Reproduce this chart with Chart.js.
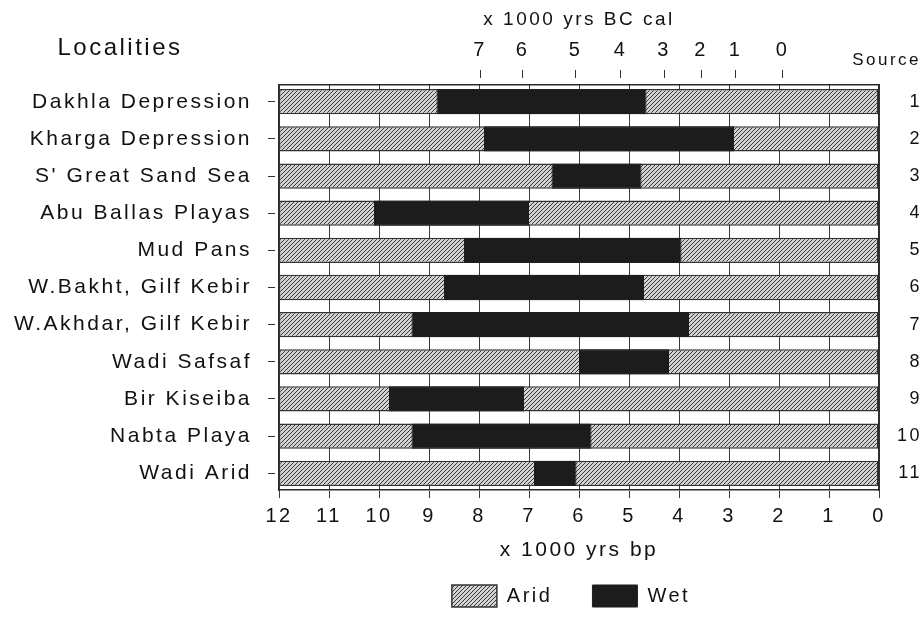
<!DOCTYPE html>
<html>
<head>
<meta charset="utf-8">
<script src="https://cdn.jsdelivr.net/npm/chart.js@4.4.1/dist/chart.umd.min.js"></script>
<style>
  html, body { margin: 0; padding: 0; background: #fff; }
  canvas { display: block; }
</style>
</head>
<body>
<canvas id="wetChart" width="922" height="617"></canvas>
<script>
// localities, top to bottom
const localities = [
    "Dakhla Depression",
    "Kharga Depression",
    "S' Great Sand Sea",
    "Abu Ballas Playas",
    "Mud Pans",
    "W.Bakht, Gilf Kebir",
    "W.Akhdar, Gilf Kebir",
    "Wadi Safsaf",
    "Bir Kiseiba",
    "Nabta Playa",
    "Wadi Arid"
];
const sources = ["1", "2", "3", "4", "5", "6", "7", "8", "9", "10", "11"];

// wet phase, x 1000 yrs bp (start = older end)
const wetStart = [8.85, 7.9, 6.55, 10.1, 8.3, 8.7, 9.35, 6.0, 9.8, 9.35, 6.9];
const wetEnd   = [4.65, 2.9, 4.75, 7.0, 3.95, 4.7, 3.8, 4.2, 7.1, 5.75, 6.05];

// arid background covers the whole record
const aridStart = 12;
const aridEnd = 0;

// axes
const bpTicks = [12, 11, 10, 9, 8, 7, 6, 5, 4, 3, 2, 1, 0];
const calLabels = ["7", "6", "5", "4", "3", "2", "1", "0"];
const calAtBp = [7.98, 7.13, 6.07, 5.17, 4.30, 3.56, 2.87, 1.93];

const ink = "#111";
Chart.defaults.font.family = "'Liberation Sans', Arial, sans-serif";
Chart.defaults.color = ink;

// diagonal hatch for the arid bars
function makeHatch() {
    const c = document.createElement("canvas");
    c.width = 4;
    c.height = 4;
    const g = c.getContext("2d");
    g.fillStyle = "#d2d2d2";
    g.fillRect(0, 0, 4, 4);
    g.strokeStyle = "#3a3a3a";
    g.lineWidth = 1;
    g.beginPath(); g.moveTo(-1, 5); g.lineTo(5, -1); g.stroke();
    g.beginPath(); g.moveTo(-1, 1); g.lineTo(1, -1); g.stroke();
    g.beginPath(); g.moveTo(3, 5); g.lineTo(5, 3); g.stroke();
    return g.createPattern(c, "repeat");
}
const hatch = makeHatch();

// wide tracking like the original typeface
const spacing = {
    id: "spacing",
    beforeUpdate(chart) { chart.ctx.letterSpacing = "2.5px"; },
    beforeDraw(chart) { chart.ctx.letterSpacing = "2.5px"; }
};

// legend sits under the plot, not the whole canvas
const legendUnderPlot = {
    id: "legendUnderPlot",
    afterLayout(chart) {
        const lg = chart.legend;
        lg.left = chart.chartArea.left - 16;
        lg.right = chart.chartArea.right;
        lg.top = 545;
    }
};

// the two corner headings
const headings = {
    id: "headings",
    afterDraw(chart) {
        const ctx = chart.ctx;
        ctx.save();
        ctx.fillStyle = ink;
        ctx.textBaseline = "middle";
        ctx.font = "24px 'Liberation Sans', Arial, sans-serif";
        ctx.textAlign = "center";
        ctx.fillText("Localities", 120, 48);
        ctx.font = "17px 'Liberation Sans', Arial, sans-serif";
        ctx.textAlign = "right";
        ctx.fillText("Source", 921, 60);
        ctx.restore();
    }
};

const rowIndex = s => { s.ticks = localities.map((_, i) => ({ value: i })); };

new Chart(document.getElementById("wetChart"), {
    type: "bar",
    data: {
        datasets: [
            {
                label: "Arid",
                data: localities.map((_, i) => ({ y: i, x: [aridStart, aridEnd] })),
                backgroundColor: hatch,
                borderColor: "#333",
                borderWidth: 1.5,
                borderSkipped: false,
                grouped: false,
                order: 2,
                xAxisID: "x",
                yAxisID: "y"
            },
            {
                label: "Wet",
                data: localities.map((_, i) => ({ y: i, x: [wetStart[i], wetEnd[i]] })),
                backgroundColor: "#1c1c1c",
                borderColor: "#1c1c1c",
                borderWidth: 1,
                borderSkipped: false,
                grouped: false,
                order: 1,
                xAxisID: "x",
                yAxisID: "y"
            }
        ]
    },
    options: {
        responsive: false,
        animation: false,
        indexAxis: "y",
        barPercentage: 0.68,
        categoryPercentage: 1,
        layout: { padding: 0 },
        scales: {
            x: {
                type: "linear",
                position: "bottom",
                min: 0,
                max: 12,
                reverse: true,
                afterBuildTicks: s => { s.ticks = bpTicks.map(v => ({ value: v })); },
                afterFit: s => { s.height = 77; },
                grid: { color: "#3a3a3a", lineWidth: 1, tickLength: 8 },
                border: { color: "#2a2a2a", width: 1.5 },
                ticks: { font: { size: 20 }, padding: 6, maxRotation: 0, autoSkip: false },
                title: { display: true, text: "x 1000 yrs bp", font: { size: 21 }, padding: { top: 2, bottom: 4 } }
            },
            xCal: {
                type: "linear",
                axis: "x",
                position: "top",
                min: 0,
                max: 12,
                reverse: true,
                afterBuildTicks: s => { s.ticks = calAtBp.map(v => ({ value: v })); },
                afterFit: s => { s.height = 85; },
                grid: { drawOnChartArea: false, tickLength: 15, tickBorderDash: [8, 20], color: "#333" },
                border: { color: "#2a2a2a", width: 1.5 },
                ticks: {
                    callback: (v, i) => calLabels[i],
                    font: { size: 20 },
                    padding: 8,
                    maxRotation: 0,
                    autoSkip: false
                },
                title: { display: true, text: "x 1000 yrs BC cal", font: { size: 19 }, padding: { top: 8, bottom: 0 } }
            },
            y: {
                type: "linear",
                min: -0.45,
                max: 10.45,
                reverse: true,
                offset: false,
                afterBuildTicks: rowIndex,
                afterFit: s => { s.width = 279; },
                grid: { offset: false, drawOnChartArea: false, tickLength: 11, tickBorderDash: [7, 20], color: "#333" },
                border: { color: "#2a2a2a", width: 1.5 },
                ticks: { callback: v => localities[Math.round(v)], font: { size: 21 }, padding: 16, autoSkip: false }
            },
            ySrc: {
                type: "linear",
                axis: "y",
                position: "right",
                min: -0.45,
                max: 10.45,
                reverse: true,
                offset: false,
                afterBuildTicks: rowIndex,
                afterFit: s => { s.width = 43; },
                grid: { offset: false, drawOnChartArea: false, drawTicks: false },
                border: { color: "#2a2a2a", width: 1.5 },
                ticks: { callback: v => sources[Math.round(v)], crossAlign: "far", font: { size: 18 }, padding: 14, autoSkip: false }
            }
        },
        plugins: {
            legend: {
                position: "bottom",
                maxHeight: 50,
                labels: {
                    boxWidth: 45,
                    boxHeight: 22,
                    padding: 40,
                    font: { size: 20 },
                    sort: (a, b) => a.datasetIndex - b.datasetIndex
                }
            },
            tooltip: { enabled: false }
        }
    },
    plugins: [spacing, legendUnderPlot, headings]
});
</script>
</body>
</html>
